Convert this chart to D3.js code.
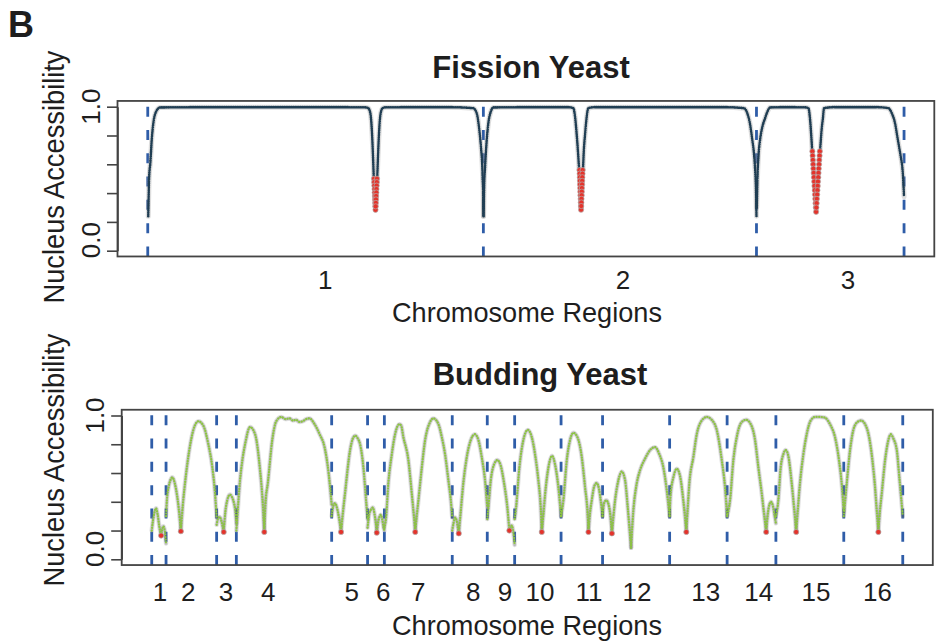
<!DOCTYPE html>
<html><head><meta charset="utf-8">
<script src="https://cdn.jsdelivr.net/npm/d3@7"></script>
<style>
body{margin:0;background:#fff}
svg{display:block}
text{font-family:'Liberation Sans',Arial,Helvetica,sans-serif;fill:#1e1e1e}
</style>
</head><body>
<svg id="chart" width="936" height="644"></svg>
<script>
// ---------------- DATA ----------------
// Fission yeast (S. pombe): chromosome lengths / centromeres (kb)
const fisLabels = ["1", "2", "3"];
const fisLengths = [5579, 4540, 2453];
const fisCentromeres = [3786, 1624, 991];
const fisLabelPos = [2950, 7900, 11638];           // cumulative kb where the region labels sit
// arms: [[kb within chromosome, accessibility], ...]
const fisChr1Left = [[8,0.24],[15,0.375],[22,0.5],[45,0.62],[66,0.77],[93,0.885],[138,0.965],[204,0.995],[1000,0.997],[2000,0.997],[3000,0.997],[3600,0.996],[3666,0.99],[3700,0.955],[3728,0.815],[3745,0.65],[3756,0.52]];
const fisChr1Right = [[3816,0.52],[3827,0.65],[3844,0.815],[3872,0.955],[3905,0.99],[3960,0.996],[4500,0.997],[5000,0.997],[5411,0.99],[5468,0.955],[5511,0.84],[5539,0.72],[5561,0.58],[5568,0.49],[5574,0.44],[5579,0.24]];
const fisChr2Left = [[4,0.24],[12,0.44],[28,0.58],[56,0.77],[83,0.885],[123,0.965],[166,0.995],[800,0.997],[1400,0.997],[1496,0.99],[1524,0.93],[1550,0.815],[1574,0.68],[1592,0.56]];
const fisChr2Right = [[1656,0.56],[1668,0.68],[1692,0.815],[1718,0.93],[1745,0.99],[1850,0.997],[3000,0.997],[4000,0.997],[4330,0.99],[4387,0.955],[4430,0.885],[4470,0.77],[4497,0.68],[4520,0.54],[4532,0.42],[4540,0.24]];
const fisChr3Left = [[5,0.3],[15,0.49],[32,0.65],[60,0.77],[98,0.86],[143,0.92],[181,0.965],[226,0.995],[500,0.997],[800,0.996],[863,0.99],[891,0.91],[915,0.77],[925,0.70]];
const fisChr3Right = [[1058,0.70],[1070,0.77],[1085,0.85],[1102,0.91],[1124,0.99],[1300,0.997],[2000,0.997],[2192,0.99],[2249,0.955],[2303,0.885],[2342,0.79],[2375,0.71],[2399,0.65],[2432,0.54],[2453,0.375]];
const fisArms = [[0,fisChr1Left],[0,fisChr1Right],[1,fisChr2Left],[1,fisChr2Right],[2,fisChr3Left],[2,fisChr3Right]];
// centromere (red) points: [kb, accessibility]
const fisRedCen1 = [[3761,0.50],[3764,0.476],[3767,0.452],[3770,0.428],[3772,0.404],[3775,0.38],[3778,0.356],[3780,0.332],[3783,0.308],[3786,0.284],
                    [3811,0.50],[3808,0.476],[3805,0.452],[3802,0.428],[3800,0.404],[3797,0.38],[3794,0.356],[3792,0.332],[3789,0.308]];
const fisRedCen2 = [[1598,0.56],[1600,0.535],[1603,0.51],[1605,0.485],[1607,0.46],[1610,0.435],[1612,0.41],[1614,0.385],[1617,0.36],[1619,0.335],[1621,0.31],[1624,0.285],
                    [1650,0.56],[1648,0.535],[1645,0.51],[1643,0.485],[1641,0.46],[1638,0.435],[1636,0.41],[1634,0.385],[1631,0.36],[1629,0.335],[1627,0.31]];
const fisRedCen3 = [[929,0.69],[933,0.66],[938,0.63],[942,0.60],[946,0.57],[951,0.54],[955,0.51],[960,0.48],[964,0.45],[969,0.42],[973,0.39],[978,0.36],[982,0.33],[987,0.30],[991,0.27],
                    [1053,0.69],[1049,0.66],[1044,0.63],[1040,0.60],[1035,0.57],[1031,0.54],[1027,0.51],[1022,0.48],[1018,0.45],[1013,0.42],[1009,0.39],[1004,0.36],[1000,0.33],[995,0.30]];
const fisRed = [[0,fisRedCen1],[1,fisRedCen2],[2,fisRedCen3]];

// Budding yeast (S. cerevisiae): 16 chromosomes (kb)
const budLabels = ["1","2","3","4","5","6","7","8","9","10","11","12","13","14","15","16"];
const budLengths = [230,813,317,1532,577,270,1091,563,440,746,667,1078,924,784,1091,948];
const budCentromeres = [151,238,114,449,151,148,496,105,355,436,440,150,268,628,326,556];
const budCenValues = [0.165,0.195,0.19,0.19,0.19,0.185,0.19,0.18,0.2,0.19,0.19,0.18,0.19,0.19,0.19,0.19];
const budLabelPos = [133,588,1194,1874,3215,3722,4285,5169,5679,6241,7029,7800,8903,9755,10677,11666];
// arm segments per chromosome: [[kb, accessibility], ...]
const budChr1 = [[[0,0.2],[20,0.27],[45,0.33],[69,0.355],[95,0.31],[125,0.22],[151,0.165]],
                 [[151,0.165],[170,0.21],[186,0.23],[205,0.21],[220,0.16],[230,0.11]]];
const budChr2 = [[[0,0.3],[15,0.42],[40,0.5],[70,0.55],[101,0.57],[140,0.53],[175,0.45],[205,0.35],[225,0.26],[238,0.195]],
                 [[238,0.195],[270,0.38],[305,0.53],[374,0.76],[439,0.9],[519,0.96],[599,0.93],[680,0.80],[744,0.64],[787,0.46],[813,0.29]]];
const budChr3 = [[[0,0.24],[20,0.28],[50,0.295],[80,0.26],[100,0.22],[114,0.19]],
                 [[114,0.19],[140,0.33],[170,0.41],[215,0.45],[250,0.43],[280,0.39],[305,0.32],[317,0.25]]];
const budChr4 = [[[0,0.2],[16,0.3],[59,0.55],[100,0.7],[140,0.8],[220,0.92],[301,0.87],[381,0.62],[420,0.42],[449,0.19]],
                 [[449,0.19],[470,0.4],[506,0.53],[577,0.83],[641,0.96],[722,0.99],[790,0.975],[855,0.98],[910,0.965],[963,0.97],[1010,0.955],[1069,0.96],[1120,0.975],[1177,0.98],[1257,0.94],[1338,0.87],[1418,0.78],[1483,0.6],[1532,0.38]]];
const budChr5 = [[[0,0.3],[20,0.36],[55,0.39],[90,0.35],[125,0.27],[151,0.19]],
                 [[151,0.19],[175,0.3],[215,0.46],[296,0.76],[340,0.84],[381,0.86],[420,0.84],[457,0.8],[510,0.64],[553,0.41],[577,0.28]]];
const budChr6 = [[[0,0.22],[29,0.32],[60,0.35],[84,0.36],[110,0.32],[130,0.26],[148,0.185]],
                 [[148,0.185],[170,0.26],[195,0.3],[212,0.31],[235,0.28],[254,0.23],[270,0.2]]];
const budChr7 = [[[0,0.22],[27,0.29],[64,0.53],[119,0.73],[172,0.87],[241,0.94],[270,0.93],[305,0.85],[386,0.69],[440,0.46],[475,0.3],[496,0.19]],
                 [[496,0.19],[520,0.3],[547,0.41],[602,0.64],[655,0.83],[735,0.955],[788,0.98],[869,0.94],[923,0.85],[976,0.73],[1029,0.55],[1068,0.41],[1091,0.29]]];
const budChr8 = [[[0,0.2],[20,0.25],[45,0.29],[70,0.27],[90,0.22],[105,0.18]],
                 [[105,0.18],[130,0.3],[178,0.53],[233,0.71],[298,0.83],[362,0.87],[420,0.83],[474,0.71],[527,0.55],[563,0.36]]];
const budChr9 = [[[0,0.28],[18,0.36],[56,0.55],[109,0.66],[163,0.69],[217,0.65],[270,0.53],[323,0.36],[355,0.2]],
                 [[355,0.2],[375,0.22],[395,0.235],[415,0.2],[430,0.15],[440,0.1]]];
const budChr10 = [[[0,0.28],[23,0.36],[76,0.64],[140,0.83],[211,0.9],[275,0.85],[328,0.73],[381,0.55],[419,0.36],[436,0.19]],
                  [[436,0.19],[460,0.3],[489,0.45],[543,0.64],[601,0.72],[649,0.66],[703,0.5],[730,0.38],[746,0.3]]];
const budChr11 = [[[0,0.3],[37,0.41],[92,0.69],[145,0.83],[198,0.88],[262,0.85],[333,0.71],[386,0.5],[423,0.34],[440,0.19]],
                  [[440,0.19],[465,0.32],[493,0.41],[535,0.51],[573,0.53],[610,0.49],[640,0.4],[667,0.3]]];
const budChr12 = [[[0,0.3],[24,0.39],[60,0.41],[90,0.39],[121,0.32],[150,0.18]],
                  [[150,0.18],[175,0.3],[201,0.41],[254,0.55],[309,0.61],[362,0.55],[405,0.36],[458,0.08]],
                  [[458,0.08],[495,0.34],[550,0.53],[603,0.62],[683,0.7],[764,0.76],[844,0.78],[913,0.73],[977,0.64],[1032,0.48],[1078,0.3]]];
const budChr13 = [[[0,0.3],[15,0.45],[60,0.57],[114,0.63],[167,0.58],[220,0.41],[250,0.28],[268,0.19]],
                  [[268,0.19],[290,0.35],[317,0.53],[381,0.71],[436,0.87],[516,0.965],[597,0.99],[677,0.97],[757,0.9],[838,0.69],[891,0.5],[924,0.3]]];
const budChr14 = [[[0,0.3],[47,0.41],[100,0.69],[164,0.87],[235,0.955],[304,0.97],[380,0.94],[449,0.83],[502,0.64],[556,0.46],[593,0.32],[628,0.19]],
                  [[628,0.19],[650,0.3],[669,0.36],[705,0.4],[742,0.36],[765,0.3],[784,0.25]]];
const budChr15 = [[[0,0.3],[39,0.41],[77,0.64],[119,0.73],[157,0.76],[199,0.72],[254,0.53],[296,0.34],[326,0.19]],
                  [[326,0.19],[350,0.33],[387,0.53],[441,0.73],[495,0.87],[559,0.965],[628,0.99],[709,0.99],[789,0.985],[869,0.94],[950,0.85],[1014,0.69],[1057,0.53],[1091,0.33]]];
const budChr16 = [[[0,0.3],[20,0.4],[48,0.53],[101,0.76],[154,0.9],[219,0.955],[278,0.965],[342,0.94],[407,0.85],[460,0.69],[503,0.5],[530,0.34],[556,0.19]],
                  [[556,0.19],[580,0.33],[611,0.46],[664,0.69],[717,0.83],[755,0.87],[797,0.84],[852,0.76],[893,0.57],[926,0.41],[948,0.3]]];
const budChromosomes = [budChr1,budChr2,budChr3,budChr4,budChr5,budChr6,budChr7,budChr8,budChr9,budChr10,budChr11,budChr12,budChr13,budChr14,budChr15,budChr16];

const yTickValues = [0, 0.2, 0.4, 0.6, 0.8, 1.0];
const yLabelText = ["0.0", "1.0"];
const yLabelPos = [0.073, 1.0];

// ---------------- DRAW ----------------
const svg = d3.select("#chart");
svg.append("rect").attr("width",936).attr("height",644).attr("fill","#fff");

svg.append("text").attr("x",8).attr("y",37).attr("font-size",36).attr("font-weight","bold").attr("fill","#333").text("B");

function panel(cfg) {
  const total = d3.sum(cfg.lengths);
  const pad = total * 0.04;
  const starts = [0, ...d3.cumsum(cfg.lengths)];
  const x = d3.scaleLinear().domain([-pad, total + pad]).range(cfg.xRange);
  const y = d3.scaleLinear().domain([0, 1]).range(cfg.yRange);
  const g = svg.append("g");

  g.append("text").attr("x", cfg.titleX).attr("y", cfg.titleY).attr("text-anchor","middle")
    .attr("font-size",31).attr("font-weight","bold").text(cfg.title);

  g.selectAll("line.bound").data(starts).join("line").attr("class","bound")
    .attr("x1", d => x(d)).attr("x2", d => x(d))
    .attr("y1", y(-0.04)).attr("y2", y(1.04))
    .attr("stroke","#2f5da8").attr("stroke-width",2.8).attr("stroke-dasharray","10 13.3");

  const line = d3.line().curve(d3.curveMonotoneX);
  const segs = cfg.segments.map(s => s.pts.map(p => [x(starts[s.chr] + p[0]), y(p[1])]));

  g.selectAll("path.halo").data(segs).join("path").attr("class","halo")
    .attr("d", line).attr("fill","none").attr("stroke","#909090").attr("stroke-opacity",cfg.haloOp)
    .attr("stroke-width",cfg.haloW).attr("stroke-linecap","round").attr("stroke-linejoin","round");
  if (cfg.darkUnder) {
    g.selectAll("path.under").data(segs).join("path").attr("class","under")
      .attr("d", line).attr("fill","none").attr("stroke",cfg.darkUnder).attr("stroke-opacity",0.22)
      .attr("stroke-width",2.6).attr("stroke-linecap","round");
  }
  g.selectAll("path.main").data(segs).join("path").attr("class","main")
    .attr("d", line).attr("fill","none").attr("stroke",cfg.color)
    .attr("stroke-width",cfg.dotW).attr("stroke-dasharray",cfg.dash).attr("stroke-linecap","round");

  g.selectAll("circle.red").data(cfg.red).join("circle").attr("class","red")
    .attr("cx", d => x(starts[d[0]] + d[1])).attr("cy", d => y(d[2])).attr("r", 2.6)
    .attr("fill","#e4332b").attr("stroke","#b0b0b0").attr("stroke-width",0.7);

  g.append("rect").attr("x", cfg.xRange[0]).attr("y", y(1.04))
    .attr("width", cfg.xRange[1]-cfg.xRange[0]).attr("height", y(-0.04)-y(1.04))
    .attr("fill","none").attr("stroke","#444").attr("stroke-width",1.8);

  const ax = g.append("g").attr("transform",`translate(${cfg.xRange[0]},0)`)
    .call(d3.axisLeft(y).tickValues(yTickValues).tickSize(10.5).tickSizeOuter(0).tickFormat(""));
  ax.selectAll("path,line").attr("stroke","#444").attr("stroke-width",1.6);

  yLabelText.forEach((t,i) => {
    g.append("text").attr("transform",`translate(${cfg.xRange[0]-18},${y(yLabelPos[i])}) rotate(-90)`)
      .attr("text-anchor","middle").attr("font-size",26).text(t);
  });

  g.selectAll("text.reg").data(cfg.labels).join("text").attr("class","reg")
    .attr("x",(d,i) => x(cfg.labelPos[i])).attr("y", cfg.labY)
    .attr("text-anchor","middle").attr("font-size",26).text(d => d);

  g.append("text").attr("x", cfg.xtitleX).attr("y", cfg.xtitleY).attr("text-anchor","middle")
    .attr("font-size",28).attr("textLength",270).attr("lengthAdjust","spacingAndGlyphs").text("Chromosome Regions");
  g.append("text").attr("transform",`translate(64,${cfg.ytitleY}) rotate(-90)`).attr("text-anchor","middle")
    .attr("font-size",29).attr("textLength",253).attr("lengthAdjust","spacingAndGlyphs").text("Nucleus Accessibility");
}

panel({
  title: "Fission Yeast", titleX: 531, titleY: 78,
  lengths: fisLengths, xRange: [117.5, 934.3], yRange: [250.7, 106.7],
  segments: fisArms.map(a => ({chr: a[0], pts: a[1]})),
  red: fisRed.flatMap(r => r[1].map(p => [r[0], p[0], p[1]])),
  color: "#1f3d52", dotW: 2.6, dash: "0.01 1.8", haloW: 5, haloOp: 0.3,
  labels: fisLabels, labelPos: fisLabelPos, labY: 289,
  xtitleX: 527, xtitleY: 322, ytitleY: 177
});

panel({
  title: "Budding Yeast", titleX: 540, titleY: 385,
  lengths: budLengths, xRange: [121.7, 932.8], yRange: [559.3, 415.5],
  segments: budChromosomes.flatMap((arms, i) => arms.map(a => ({chr: i, pts: a}))),
  red: budCentromeres.map((c, i) => [i, c, budCenValues[i]]),
  color: "#8cc63f", dotW: 2.2, dash: "0.01 2.6", haloW: 4.5, haloOp: 0.28, darkUnder: "#333",
  labels: budLabels, labelPos: budLabelPos, labY: 601,
  xtitleX: 527, xtitleY: 635, ytitleY: 460
});
</script>
</body></html>
